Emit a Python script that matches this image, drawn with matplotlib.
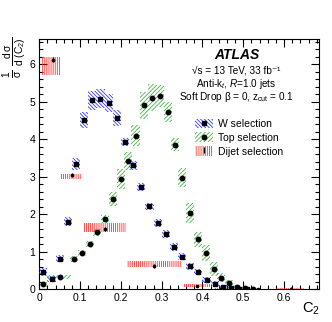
import numpy as np
import matplotlib
matplotlib.use('Agg')
import matplotlib.pyplot as plt
from matplotlib.patches import Patch
from matplotlib.lines import Line2D

# W selection (bins of 0.02)
w_x = [0.01, 0.03, 0.05, 0.07, 0.09, 0.11, 0.13, 0.15, 0.17, 0.19, 0.21, 0.23, 0.25,
       0.27, 0.29, 0.31, 0.33, 0.35, 0.37, 0.39, 0.41, 0.43, 0.45, 0.47, 0.49, 0.51]
w_y = [0.46, 0.28, 0.81, 1.80, 3.34, 4.52, 5.04, 5.09, 4.98, 4.57, 3.93, 3.31, 2.72,
       2.21, 1.76, 1.47, 1.12, 0.86, 0.61, 0.45, 0.25, 0.14, 0.05, 0.02, 0.01, 0.005]
w_err = [0.10, 0.08, 0.10, 0.12, 0.17, 0.22, 0.26, 0.25, 0.24, 0.22, 0.11, 0.12, 0.10,
         0.10, 0.10, 0.10, 0.10, 0.09, 0.09, 0.08, 0.08, 0.07, 0.05, 0.04, 0.03, 0.03]

# Top selection
top_x = [0.01, 0.05, 0.086, 0.105, 0.124, 0.142, 0.162, 0.181, 0.200, 0.218, 0.236, 0.257,
         0.276, 0.295, 0.315, 0.333, 0.350, 0.370, 0.390, 0.409, 0.428, 0.446, 0.466,
         0.485, 0.504, 0.523]
top_y = [0.13, 0.33, 0.79, 0.95, 1.21, 1.51, 1.87, 2.41, 2.94, 3.42, 4.10, 4.91,
         5.11, 5.15, 4.73, 3.86, 2.97, 2.04, 1.33, 0.96, 0.53, 0.30, 0.15,
         0.05, 0.02, 0.01]
top_err = [0.07, 0.05, 0.08, 0.08, 0.08, 0.09, 0.10, 0.18, 0.26, 0.25, 0.28, 0.36,
           0.36, 0.30, 0.26, 0.18, 0.25, 0.27, 0.20, 0.22, 0.18, 0.12, 0.08,
           0.05, 0.03, 0.02]
top_w = [0.02, 0.055, 0.02, 0.02, 0.02, 0.02, 0.02, 0.02, 0.02, 0.02, 0.02, 0.02,
         0.02, 0.02, 0.02, 0.02, 0.02, 0.02, 0.02, 0.02, 0.02, 0.02, 0.02,
         0.02, 0.02, 0.02]

# Dijet selection (wide bins)
dj_x = [0.034, 0.080, 0.162, 0.282, 0.387, 0.445, 0.537, 0.616]
dj_y = [6.13, 3.04, 1.61, 0.61, 0.08, 0.01, 0.005, 0.01]
dj_stat = [0.07, 0.05, 0.05, 0.05, 0.03, 0.02, 0.02, 0.03]
dj_xlo = [0.003, 0.052, 0.106, 0.215, 0.352, 0.428, 0.47, 0.58]
dj_xhi = [0.050, 0.104, 0.212, 0.349, 0.425, 0.462, 0.58, 0.65]
dj_ylo = [5.72, 2.93, 1.52, 0.58, 0.05, 0.0, 0.0, 0.0]
dj_yhi = [6.21, 3.07, 1.76, 0.74, 0.14, 0.03, 0.01, 0.02]

blue = '#2828ff'
green = '#38b038'
red = '#ff2020'
hatch_w = '\\' * 9
hatch_t = '/' * 8
hatch_d = '|' * 8

plt.rcParams['font.family'] = ['Liberation Sans', 'DejaVu Sans']
plt.rcParams['mathtext.fontset'] = 'custom'
plt.rcParams['mathtext.rm'] = 'Liberation Sans'
plt.rcParams['mathtext.it'] = 'Liberation Sans:italic'
plt.rcParams['mathtext.bf'] = 'Liberation Sans:bold'
plt.rcParams['hatch.linewidth'] = 0.55

fig = plt.figure(figsize=(3.32, 3.22), dpi=100)
ax = fig.add_axes([0.1184, 0.1025, 0.8416, 0.7764])

# systematic boxes
ax.bar(top_x, 2 * np.array(top_err), bottom=np.array(top_y) - np.array(top_err),
       width=top_w, color='none', edgecolor=green, linewidth=0, hatch=hatch_t, zorder=2)
ax.bar(w_x, 2 * np.array(w_err), bottom=np.array(w_y) - np.array(w_err),
       width=0.02, color='none', edgecolor=blue, linewidth=0, hatch=hatch_w, zorder=3)
dj_c = (np.array(dj_xlo) + np.array(dj_xhi)) / 2
dj_w = np.array(dj_xhi) - np.array(dj_xlo)
ax.bar(dj_c, np.array(dj_yhi) - np.array(dj_ylo), bottom=dj_ylo, width=dj_w,
       color='none', edgecolor=red, linewidth=0, hatch=hatch_d, zorder=2)

# points
ax.plot(top_x, top_y, 'o', color='black', ms=3.2, zorder=5)
ax.plot(w_x, w_y, 's', color='black', ms=3.2, zorder=6)
ax.errorbar(dj_x, dj_y, yerr=dj_stat, fmt='o', color='black', ms=1.6,
            elinewidth=1.0, capsize=0, zorder=6)

ax.set_xlim(0, 0.685)
ax.set_ylim(0, 6.68)
ax.set_xticks(np.arange(0, 0.61, 0.1))
ax.set_xticklabels(['0', '0.1', '0.2', '0.3', '0.4', '0.5', '0.6'])
ax.set_xticks(np.arange(0, 0.685, 0.02), minor=True)
ax.set_yticks(range(0, 7))
ax.set_yticks(np.arange(0, 6.68, 0.2), minor=True)
ax.tick_params(which='both', direction='in', top=True, right=True, width=0.8,
               labelsize=7.5)
ax.tick_params(which='major', length=6, pad=3)
ax.tick_params(which='minor', length=3)
for s in ax.spines.values():
    s.set_linewidth(0.8)

# labels
fig.text(0.937, 0.04, '$\\mathrm{C_{2}}$', fontsize=10.5, ha='center', va='center')
fig.text(0.045, 0.823,
         r'$\frac{1}{\mathrm{\sigma}}\ \frac{\mathrm{d\,\sigma}}{\mathrm{d\ (C_{2})}}$',
         rotation=90, fontsize=10.5, ha='center', va='center')

tx = 0.706
ax.text(tx, 0.936, 'ATLAS', transform=ax.transAxes, fontsize=10, fontweight='bold',
        style='italic', ha='center', va='center')
ax.text(tx, 0.872, '√s = 13 TeV, 33 fb⁻¹', transform=ax.transAxes, fontsize=7.2,
        ha='center', va='center')
ax.text(tx, 0.820, 'Anti-k$_{t}$, $R$=1.0 jets', transform=ax.transAxes, fontsize=7.2,
        ha='center', va='center')
ax.text(tx, 0.767, 'Soft Drop β = 0, z$_{\\mathrm{cut}}$ = 0.1', transform=ax.transAxes,
        fontsize=7.2, ha='center', va='center')

h_w = (Patch(facecolor='none', edgecolor=blue, linewidth=0, hatch=hatch_w),
       Line2D([], [], marker='s', color='black', ms=3.2, ls='none'))
h_t = (Patch(facecolor='none', edgecolor=green, linewidth=0, hatch=hatch_t),
       Line2D([], [], marker='o', color='black', ms=3.2, ls='none'))
h_d = (Patch(facecolor='none', edgecolor=red, linewidth=0, hatch=hatch_d),
       Line2D([], [], marker='|', color='black', ms=4, ls='none'))
ax.legend([h_w, h_t, h_d], ['W selection', 'Top selection', 'Dijet selection'],
          loc='upper left', bbox_to_anchor=(0.55, 0.69), frameon=False, fontsize=7.5,
          handlelength=1.7, handleheight=1.0, handletextpad=0.5, labelspacing=0.35,
          borderpad=0.2, borderaxespad=0)

fig.savefig('out.png', dpi=100)
